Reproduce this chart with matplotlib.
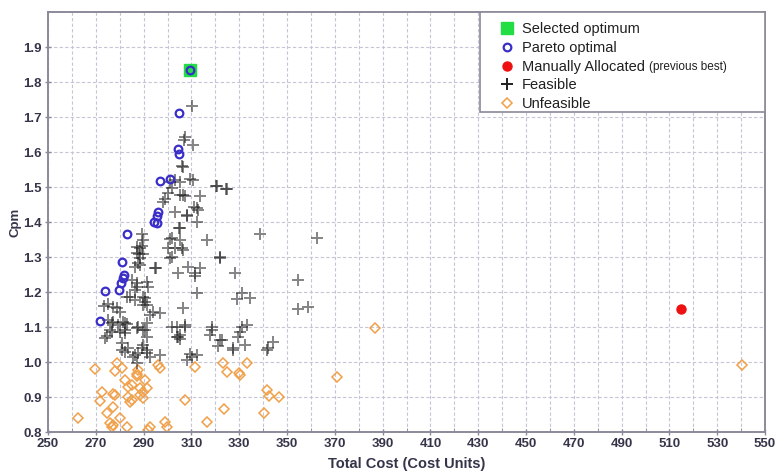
import matplotlib
matplotlib.use("Agg")
import matplotlib.pyplot as plt
from matplotlib.patches import Rectangle
import numpy as np

plt.rcParams['font.family'] = ['Liberation Sans', 'DejaVu Sans']

# ---------------- data ----------------
selected_x = [309.4]
selected_y = [1.834]

manual_x = [514.8]
manual_y = [1.151]

pareto_x = [271.8, 273.8, 279.8, 280.5, 281.3, 281.8, 281.1, 283.2, 294.4, 295.5,
            296.2, 295.8, 296.9, 301.0, 304.4, 304.8, 304.8, 309.4]
pareto_y = [1.117, 1.203, 1.206, 1.225, 1.240, 1.250, 1.287, 1.366, 1.401, 1.398,
            1.428, 1.418, 1.518, 1.524, 1.610, 1.595, 1.711, 1.834]

feasible_x = [310.4, 307.3, 307.0, 310.5, 306.3, 305.9, 309.4, 310.8, 301.0, 303.1,
              305.2, 301.7, 300.3, 305.2, 307.3, 299.0, 298.3, 320.1, 324.3, 313.6,
              312.2, 311.2, 303.1, 308.0, 312.9, 312.2, 304.9, 305.2, 338.7, 289.2,
              301.7, 305.2, 301.0, 316.4, 289.9, 289.2, 287.1, 288.5, 300.3, 305.9,
              303.1, 287.1, 288.2, 289.9, 306.6, 301.7, 288.5, 301.0, 322.0, 308.7,
              313.6, 287.8, 288.5, 286.4, 295.2, 294.8, 304.5, 311.5, 328.2, 354.7,
              362.4, 285.0, 287.1, 291.3, 292.0, 287.1, 286.4, 312.2, 329.0, 331.0,
              334.5, 282.9, 284.3, 286.4, 289.9, 290.6, 290.6, 291.3, 289.9, 275.2,
              277.3, 278.7, 280.1, 294.1, 296.9, 292.7, 306.6, 354.7, 358.9, 275.2,
              277.3, 276.6, 279.4, 281.5, 282.2, 282.9, 275.9, 276.6, 273.8, 280.1,
              282.2, 282.2, 287.1, 287.8, 290.6, 289.9, 291.3, 291.3, 280.8, 283.6,
              280.8, 282.2, 285.7, 287.8, 286.4, 289.2, 289.9, 291.3, 291.3, 292.7,
              296.9, 301.7, 303.8, 307.3, 307.3, 304.5, 305.2, 303.8, 305.2, 318.5,
              317.8, 318.5, 322.7, 322.0, 321.2, 327.5, 327.5, 329.6, 330.3, 331.0,
              333.1, 332.4, 342.2, 344.3, 341.8, 308.0, 310.1, 309.4, 312.2, 287.1,
              320.6, 324.8, 306.6, 308.0, 322.0, 311.5, 273.5, 274.8]
feasible_y = [1.732, 1.644, 1.635, 1.620, 1.556, 1.560, 1.522, 1.520, 1.515, 1.520,
              1.515, 1.496, 1.482, 1.477, 1.474, 1.465, 1.458, 1.503, 1.494, 1.474,
              1.439, 1.444, 1.429, 1.417, 1.434, 1.401, 1.384, 1.382, 1.366, 1.367,
              1.353, 1.349, 1.351, 1.349, 1.349, 1.332, 1.330, 1.325, 1.325, 1.325,
              1.325, 1.311, 1.310, 1.309, 1.320, 1.301, 1.296, 1.296, 1.299, 1.272,
              1.269, 1.282, 1.277, 1.272, 1.270, 1.268, 1.255, 1.253, 1.253, 1.235,
              1.353, 1.234, 1.225, 1.229, 1.215, 1.215, 1.206, 1.196, 1.179, 1.196,
              1.182, 1.187, 1.187, 1.177, 1.187, 1.182, 1.172, 1.163, 1.163, 1.165,
              1.158, 1.153, 1.144, 1.144, 1.139, 1.134, 1.153, 1.151, 1.156, 1.120,
              1.115, 1.111, 1.106, 1.115, 1.112, 1.108, 1.091, 1.087, 1.068, 1.087,
              1.082, 1.091, 1.096, 1.101, 1.091, 1.091, 1.111, 1.072, 1.053, 1.039,
              1.034, 1.029, 1.015, 1.025, 1.020, 1.039, 1.049, 1.034, 1.025, 1.015,
              1.020, 1.101, 1.101, 1.101, 1.106, 1.072, 1.065, 1.072, 1.077, 1.101,
              1.077, 1.091, 1.063, 1.063, 1.047, 1.039, 1.034, 1.072, 1.087, 1.101,
              1.106, 1.049, 1.039, 1.058, 1.034, 1.006, 1.015, 1.023, 1.020, 0.996,
              1.503, 1.493, 1.477, 1.420, 1.297, 1.246, 1.160, 1.075]

unfeasible_x = [269.7, 278.7, 280.8, 278.0, 287.8, 287.1, 287.4, 296.9, 296.2, 311.5,
                282.2, 283.6, 285.0, 290.6, 288.5, 291.3, 289.9, 272.5, 277.3, 278.0,
                271.8, 283.6, 285.0, 284.3, 288.5, 289.9, 277.3, 307.3, 262.7, 274.5,
                280.1, 275.9, 276.6, 277.3, 282.9, 292.7, 292.0, 299.0, 299.7, 316.5,
                323.4, 325.0, 330.0, 330.3, 333.4, 341.5, 342.6, 346.8, 340.4, 323.8,
                370.8, 386.8, 540.4]
unfeasible_y = [0.980, 0.996, 0.982, 0.974, 0.977, 0.965, 0.961, 0.982, 0.991, 0.987,
                0.949, 0.929, 0.934, 0.949, 0.925, 0.925, 0.915, 0.915, 0.910, 0.906,
                0.889, 0.901, 0.891, 0.887, 0.906, 0.896, 0.872, 0.891, 0.839, 0.853,
                0.839, 0.825, 0.815, 0.820, 0.815, 0.815, 0.806, 0.829, 0.815, 0.828,
                0.996, 0.972, 0.968, 0.963, 0.998, 0.920, 0.903, 0.899, 0.853, 0.866,
                0.958, 1.097, 0.991]

x_ticks = [250, 270, 290, 310, 330, 350, 370, 390, 410, 430, 450, 470, 490, 510, 530, 550]
y_ticks = [0.8, 0.9, 1.0, 1.1, 1.2, 1.3, 1.4, 1.5, 1.6, 1.7, 1.8, 1.9]
y_tick_labels = ["0.8", "0.9", "1.0", "1.1", "1.2", "1.3", "1.4", "1.5", "1.6", "1.7", "1.8", "1.9"]

# ---------------- figure ----------------
W, H = 777, 472
fig = plt.figure(figsize=(W / 100, H / 100), dpi=100)
AX_L, AX_R, AX_T, AX_B = 48, 765, 12, 432
ax = fig.add_axes([AX_L / W, (H - AX_B) / H, (AX_R - AX_L) / W, (AX_B - AX_T) / H])

tick_color = '#35354a'
grid_color = '#c4c6d6'
spine_color = '#8a8a9a'

ax.set_xlim(250, 550)
ax.set_ylim(0.8, 2.0)
ax.set_xticks(x_ticks)
ax.set_xticks(np.arange(250, 551, 10), minor=True)
ax.set_yticks(y_ticks)
ax.set_yticklabels(y_tick_labels)
ax.grid(True, which='both', axis='x', color=grid_color, linestyle=(0, (3, 2)), linewidth=0.8)
ax.grid(True, which='major', axis='y', color=grid_color, linestyle=(0, (3, 2)), linewidth=0.8)
ax.set_axisbelow(True)

for s in ax.spines.values():
    s.set_color(spine_color)
    s.set_linewidth(1.4)

ax.tick_params(axis='both', which='major', labelsize=9.5, colors=spine_color,
               labelcolor=tick_color, direction='inout', length=5, width=1, pad=2)
ax.tick_params(axis='x', which='minor', direction='in', length=3, colors=spine_color)
for lab in ax.get_xticklabels() + ax.get_yticklabels():
    lab.set_fontweight('bold')

ax.set_xlabel('Total Cost (Cost Units)', fontsize=10.5, fontweight='bold', color=tick_color, labelpad=5)
ax.set_ylabel('Cpm', fontsize=9.5, fontweight='bold', color=tick_color, labelpad=1)

# marks
ax.plot(unfeasible_x, unfeasible_y, linestyle='none', marker='D', markersize=5.5,
        markerfacecolor='none', markeredgecolor='#f0a048', markeredgewidth=1.1, label='Unfeasible', zorder=2)
ax.plot(feasible_x, feasible_y, linestyle='none', marker='+', markersize=8,
        color='#202020', alpha=0.55, markeredgewidth=1.4, label='Feasible', zorder=3)
ax.plot(selected_x, selected_y, linestyle='none', marker='s', markersize=8,
        color='#22dd44', label='Selected optimum', zorder=4)
ax.plot(pareto_x, pareto_y, linestyle='none', marker='o', markersize=5.5,
        markerfacecolor='none', markeredgecolor='#3a2ec8', markeredgewidth=1.6, label='Pareto optimal', zorder=5)
ax.plot(manual_x, manual_y, linestyle='none', marker='o', markersize=6.5,
        color='#ee1111', label='Manually Allocated', zorder=5)

# legend frame drawn as a box in the upper right corner
LEG_L, LEG_B = 480, 112
frame = Rectangle(((LEG_L - AX_L) / (AX_R - AX_L), (AX_B - LEG_B) / (AX_B - AX_T)),
                  (AX_R - LEG_L) / (AX_R - AX_L), (LEG_B - AX_T) / (AX_B - AX_T),
                  transform=ax.transAxes, facecolor='white', edgecolor=spine_color,
                  linewidth=1.2, zorder=6)
ax.add_patch(frame)

handles, labels = ax.get_legend_handles_labels()
order = ['Selected optimum', 'Pareto optimal', 'Manually Allocated', 'Feasible', 'Unfeasible']
hmap = dict(zip(labels, handles))
leg = ax.legend([hmap[k] for k in order], order, loc='upper left',
                bbox_to_anchor=((500 - AX_L) / (AX_R - AX_L), (AX_B - 22) / (AX_B - AX_T)),
                frameon=False, fontsize=10.5, borderaxespad=0, borderpad=0,
                handlelength=1.0, handletextpad=0.5, labelspacing=0.33)
leg.set_zorder(7)
for t in leg.get_texts():
    t.set_color('#202020')
for lh in leg.legend_handles:
    try:
        lh.set_alpha(1)
    except Exception:
        pass

fig.canvas.draw()
renderer = fig.canvas.get_renderer()
t = leg.get_texts()[2]
bb = t.get_window_extent(renderer)
fig.text((bb.x1 + 4) / W, (bb.y0 + bb.y1) / 2 / H, '(previous best)',
         fontsize=8.5, color='#202020', va='center', ha='left', zorder=8)

fig.savefig('out.png', dpi=100)
